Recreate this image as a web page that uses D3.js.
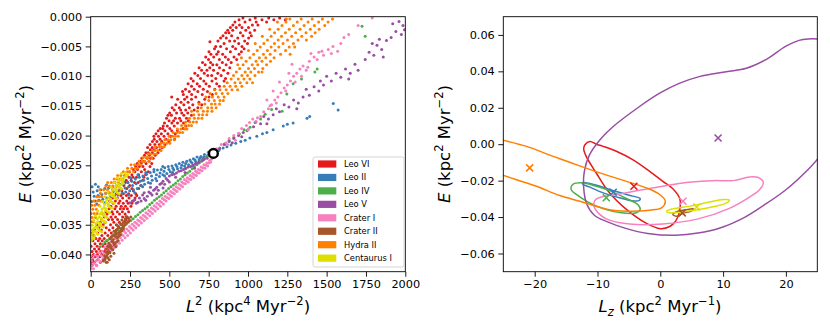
<!DOCTYPE html>
<html>
  <head>
    <meta charset="utf-8">
    <script type="text/javascript" src="https://d3js.org/d3.v7.min.js"></script>
    <style>
      body { margin: 0; background: #fff; }
      text { font-family: "DejaVu Sans", sans-serif; }
    </style>
  </head>
  <body>
    <script>
        // satellite names and colours (legend order = plotting order)
        var names = ["Leo VI", "Leo II", "Leo IV", "Leo V", "Crater I", "Crater II", "Hydra II", "Centaurus I"];
        var colors = ["#e41a1c", "#377eb8", "#4daf4a", "#984ea3", "#f781bf", "#a65628", "#ff7f00", "#dede00"];

        // tick values
        var l2Ticks = [0, 250, 500, 750, 1000, 1250, 1500, 1750, 2000];
        var eTicksLeft = [0, -0.005, -0.010, -0.015, -0.020, -0.025, -0.030, -0.035, -0.040];
        var lzTicks = [-20, -10, 0, 10, 20];
        var eTicksRight = [0.06, 0.04, 0.02, 0.00, -0.02, -0.04, -0.06];

        // left panel: [L^2, E] samples
        var leoVI = [[8,-.0418],[37,-.0418],[22,-.0413],[61,-.0413],[4,-.0413],[45,-.0409],[13,-.0409],[79,-.0409],[29,-.0404],[92,-.0404],[58,-.0404],[6,-.0404],[71,-.0400],[18,-.0400],[104,-.0400],[43,-.0400],[36,-.0395],[87,-.0395],[9,-.0395],[122,-.0395],[63,-.0395],[52,-.0391],[112,-.0391],[24,-.0391],[95,-.0391],[78,-.0386],[3,-.0386],[134,-.0386],[41,-.0386],[108,-.0386],[61,-.0382],[119,-.0382],[27,-.0382],[92,-.0382],[148,-.0382],[14,-.0377],[103,-.0377],[73,-.0377],[139,-.0377],[48,-.0377],[86,-.0373],[33,-.0373],[158,-.0373],[121,-.0373],[57,-.0373],[109,-.0368],[19,-.0368],[71,-.0368],[173,-.0368],[144,-.0368],[45,-.0364],[131,-.0364],[92,-.0364],[185,-.0364],[11,-.0364],[68,-.0359],[162,-.0359],[118,-.0359],[26,-.0359],[193,-.0359],[99,-.0355],[141,-.0355],[52,-.0355],[178,-.0355],[207,-.0355],[126,-.0350],[79,-.0350],[163,-.0350],[38,-.0350],[196,-.0350],[147,-.0346],[92,-.0346],[211,-.0346],[61,-.0346],[182,-.0346],[113,-.0341],[171,-.0341],[69,-.0341],[224,-.0341],[138,-.0341],[158,-.0337],[87,-.0337],[203,-.0337],[129,-.0337],[232,-.0337],[104,-.0332],[183,-.0332],[142,-.0332],[219,-.0332],[78,-.0332],[136,-.0328],[201,-.0328],[97,-.0328],[169,-.0328],[241,-.0328],[117,-.0323],[188,-.0323],[154,-.0323],[233,-.0323],[209,-.0323],[162,-.0319],[128,-.0319],[221,-.0319],[194,-.0319],[256,-.0319],[143,-.0314],[207,-.0314],[178,-.0314],[262,-.0314],[238,-.0314],[186,-.0310],[121,-.0310],[229,-.0310],[157,-.0310],[271,-.0310],[169,-.0305],[244,-.0305],[203,-.0305],[139,-.0305],[282,-.0305],[192,-.0301],[258,-.0301],[227,-.0301],[151,-.0301],[293,-.0301],
            [163,-.0298],[241,-.0298],[287,-.0298],[208,-.0298],[198,-.0293],[271,-.0293],[176,-.0293],[229,-.0289],[305,-.0289],[187,-.0289],[262,-.0289],[211,-.0284],[318,-.0284],[248,-.0284],[236,-.0279],[279,-.0279],[301,-.0279],[219,-.0279],[257,-.0275],[330,-.0275],[226,-.0275],[244,-.0270],[291,-.0270],[338,-.0270],[269,-.0270],[262,-.0266],[349,-.0266],[305,-.0266],[281,-.0261],[247,-.0261],[322,-.0261],[366,-.0261],[298,-.0257],[271,-.0257],[343,-.0257],[309,-.0252],[377,-.0252],[286,-.0252],[332,-.0252],[296,-.0247],[352,-.0247],[388,-.0247],[321,-.0247],[338,-.0243],[314,-.0243],[371,-.0243],[359,-.0238],[397,-.0238],[325,-.0238],[381,-.0238],[342,-.0233],[410,-.0233],[373,-.0233],[366,-.0229],[392,-.0229],[428,-.0229],[351,-.0229],[379,-.0224],[441,-.0224],[403,-.0224],[362,-.0220],[418,-.0220],[455,-.0220],[391,-.0220],[408,-.0215],[377,-.0215],[472,-.0215],[436,-.0215],[421,-.0210],[392,-.0210],[497,-.0210],[452,-.0210],[404,-.0206],[478,-.0206],[533,-.0206],[441,-.0206],[431,-.0201],[508,-.0201],[466,-.0201],[402,-.0201],[449,-.0197],[415,-.0197],[538,-.0197],[491,-.0197],[472,-.0192],[551,-.0192],[429,-.0192],[515,-.0192],[458,-.0188],[503,-.0188],[588,-.0188],[442,-.0188],[487,-.0184],[531,-.0184],[605,-.0184],[461,-.0184],[469,-.0179],[552,-.0179],[516,-.0179],[590,-.0179],[498,-.0175],[573,-.0175],[527,-.0175],[621,-.0175],[482,-.0171],[538,-.0171],[609,-.0171],[565,-.0171],[513,-.0166],[592,-.0166],[641,-.0166],[491,-.0166],[546,-.0162],[502,-.0162],[617,-.0162],[579,-.0162],[531,-.0157],[658,-.0157],[572,-.0157],[604,-.0157],[563,-.0153],[627,-.0153],[518,-.0153],[681,-.0153],[592,-.0148],[541,-.0148],[649,-.0148],[706,-.0148],[574,-.0144],[619,-.0144],[688,-.0144],[553,-.0139],[641,-.0139],[597,-.0139],[725,-.0139],[515,-.0135],[668,-.0135],[612,-.0135],[752,-.0135],[589,-.0131],[709,-.0131],[642,-.0131],[773,-.0131],[627,-.0126],[584,-.0126],[681,-.0126],[742,-.0126],[603,-.0122],[716,-.0122],[658,-.0122],[789,-.0122],[641,-.0117],[754,-.0117],[692,-.0117],[818,-.0117],[619,-.0113],[677,-.0113],[733,-.0113],[801,-.0113],[652,-.0108],[719,-.0108],[848,-.0108],[771,-.0108],[638,-.0104],[698,-.0104],[795,-.0104],[857,-.0104],[681,-.0099],[744,-.0099],[829,-.0099],[769,-.0099],[662,-.0095],[722,-.0095],[808,-.0095],[872,-.0095],[705,-.0090],[781,-.0090],[845,-.0090],[739,-.0090],[689,-.0086],[757,-.0086],[884,-.0086],[819,-.0086],[728,-.0081],[802,-.0081],[861,-.0081],[776,-.0081],[711,-.0077],[837,-.0077],[893,-.0077],[762,-.0077],[749,-.0072],[818,-.0072],[875,-.0072],[928,-.0072],[782,-.0068],[731,-.0068],[856,-.0068],[911,-.0068],[764,-.0063],[839,-.0063],[943,-.0063],[801,-.0063],[811,-.0059],[888,-.0059],[958,-.0059],[752,-.0059],[787,-.0054],[864,-.0054],[921,-.0054],[975,-.0054],[826,-.0050],[903,-.0050],[962,-.0050],[795,-.0050],[848,-.0045],[758,-.0042],[941,-.0045],[997,-.0045],[809,-.0041],[883,-.0041],[979,-.0041],[915,-.0041],[862,-.0036],[935,-.0036],[1004,-.0036],[826,-.0036],[841,-.0032],[896,-.0032],[968,-.0032],[1021,-.0032],[879,-.0027],[952,-.0027],[1013,-.0027],[858,-.0027],[903,-.0023],[986,-.0023],[871,-.0023],[1042,-.0023],[925,-.0018],[1003,-.0018],[962,-.0018],[888,-.0018],[946,-.0014],[1028,-.0014],[904,-.0014],[1063,-.0014],[917,-.0009],[981,-.0009],[1052,-.0009],[1118,-.0009],[943,-.0005],[1012,-.0005],[1089,-.0005],[1164,-.0005],[1237,-.0005],[968,-.0002],[1046,-.0002],[1132,-.0002],[1201,-.0002]];
        var leoII = [[1542,-.0146],[1573,-.0157],[1375,-.0171],[1392,-.0168],[1287,-.0179],[1250,-.0181],[1224,-.0184],[1160,-.0190],[1120,-.0195],[1092,-.0197],[1056,-.0201],[1012,-.0204],[982,-.0208],[954,-.0210],[922,-.0213],[892,-.0216],[866,-.0219],[842,-.0221],[815,-.0225],[795,-.0227],
            [771,-.0229],[756,-.0234],[748,-.0228],[737,-.0236],[723,-.0232],[712,-.0239],[701,-.0235],[689,-.0241],[676,-.0236],[668,-.0244],[653,-.0239],[644,-.0246],[631,-.0241],[622,-.0249],[611,-.0243],[597,-.0251],[586,-.0245],[574,-.0254],[563,-.0247],[552,-.0256],[541,-.0249],[528,-.0258],[517,-.0251],[506,-.0261],[493,-.0252],[484,-.0264],[471,-.0254],[459,-.0266],[448,-.0257],[437,-.0269],[424,-.0258],[413,-.0272],[402,-.0261],[391,-.0275],[378,-.0262],[366,-.0279],[355,-.0265],[343,-.0282],[332,-.0268],[321,-.0284],[309,-.0270],[296,-.0289],[284,-.0273],[272,-.0291],[261,-.0277],[248,-.0293],[236,-.0279],[223,-.0295],[212,-.0281],[199,-.0297],[186,-.0282],[174,-.0300],[163,-.0285],[151,-.0301],[139,-.0286],[126,-.0303],[113,-.0288],[102,-.0305],[89,-.0289],[77,-.0307],[64,-.0291],[52,-.0309],[41,-.0293],[28,-.0310],[16,-.0295],[6,-.0311],[9,-.0286],
            [764,-.0232],[744,-.0233],[719,-.0236],[694,-.0238],[663,-.0241],[637,-.0244],[604,-.0247],[579,-.0250],[548,-.0252],[523,-.0255],[497,-.0257],[466,-.0260],[441,-.0263],[418,-.0266],[387,-.0268],[362,-.0272],[337,-.0275],[314,-.0277],[289,-.0281],[266,-.0284],[241,-.0286],[218,-.0288],[193,-.0290],[168,-.0293],[144,-.0294],[119,-.0296],[96,-.0297],[71,-.0299],[47,-.0301],[22,-.0302],
            [458,-.0252],[402,-.0257],[350,-.0262],[300,-.0266],[255,-.0271],[205,-.0275],[150,-.0279],[100,-.0283],[48,-.0286],[30,-.0282],[520,-.0262],[470,-.0268],[420,-.0276],[380,-.0280],[330,-.0286],[280,-.0296],[240,-.0300],[90,-.0313],[38,-.0315],[600,-.0256],[650,-.0251]];
        var leoIV = [[60,-.0387],[75,-.0383],[90,-.0379],[105,-.0376],[120,-.0373],[135,-.0369],[150,-.0366],[165,-.0363],[180,-.0360],[195,-.0356],[210,-.0353],[225,-.0349],[240,-.0346],[255,-.0343],[270,-.0340],[285,-.0336],[300,-.0333],[315,-.0329],[330,-.0326],[345,-.0323],[360,-.0320],[375,-.0316],[390,-.0313],[405,-.0309],[420,-.0306],[435,-.0303],[450,-.0300],[465,-.0296],[480,-.0293],[495,-.0289],[510,-.0286],[525,-.0283],[540,-.0280],[555,-.0276],[570,-.0273],[585,-.0269],[600,-.0266],[615,-.0263],[630,-.0260],[645,-.0256],[660,-.0253],[675,-.0249],[690,-.0246],[705,-.0243],[720,-.0240],[735,-.0237],[750,-.0234],[775,-.0230],[820,-.0221],[850,-.0214],[880,-.0208],[910,-.0203],[945,-.0197],[975,-.0190],[993,-.0192],[1013,-.0186],[1045,-.0178],[1080,-.0172],[1109,-.0164],[1150,-.0156],[1217,-.0159],[1247,-.0130],[1287,-.0113],[1340,-.0105],[1425,-.0093],[1440,-.0088],[1725,-.0016],[1745,-.0033]];
        var leoV = [[1985,-.0015],[1960,-.0008],[1940,-.0025],[1910,-.0035],[1975,-.0030],[1920,-.0012],[1995,-.0022],[1880,-.0040],[1850,-.0055],[1820,-.0048],[1800,-.0065],[1770,-.0060],[1745,-.0072],[1860,-.0068],[1790,-.0045],[1835,-.0038],[1680,-.0080],[1650,-.0095],[1620,-.0088],[1590,-.0102],[1560,-.0095],[1530,-.0108],[1500,-.0100],[1640,-.0105],[1700,-.0090],[1480,-.0115],[1450,-.0125],[1420,-.0118],[1390,-.0132],[1370,-.0122],[1460,-.0108],[1350,-.0135],[1320,-.0145],[1290,-.0140],[1260,-.0152],[1230,-.0148],[1200,-.0160],[1180,-.0155],[1310,-.0155],[1160,-.0165],[1130,-.0172],[1100,-.0168],[1080,-.0180],[1050,-.0177],[1035,-.0185],[1120,-.0180],[1000,-.0190],[970,-.0195],[940,-.0200],[910,-.0205],[880,-.0210],[850,-.0215],[820,-.0222],[790,-.0228],[960,-.0202],[900,-.0212],[740,-.0238],[710,-.0242],[680,-.0246],[650,-.0250],[620,-.0253],[590,-.0257],[560,-.0260],[530,-.0265],[500,-.0268],[480,-.0272],[460,-.0277],[440,-.0282],[420,-.0287],[400,-.0292],[380,-.0297],[360,-.0302],[340,-.0306],[320,-.0310],[300,-.0312],[460,-.0288],[420,-.0298],[500,-.0278],[540,-.0270],[250,-.0313],[280,-.0308],[600,-.0262],[660,-.0255],[380,-.0287],[340,-.0296],
            [720,-.0240],[690,-.0244],[665,-.0248],[635,-.0252],[605,-.0255],[575,-.0259],[545,-.0263],[515,-.0266],[490,-.0275],[470,-.0282],[450,-.0280],[430,-.0292],[410,-.0290],[390,-.0300],[370,-.0295],[350,-.0309],[330,-.0300],[310,-.0305],[290,-.0314],[265,-.0310]];
        var craterI = [[4,-.0411],[9,-.0419],[15,-.0406],[21,-.0415],[27,-.0401],[33,-.0411],[38,-.0418],[44,-.0403],[50,-.0409],[56,-.0397],[61,-.0412],[67,-.0402],[73,-.0394],[79,-.0406],[85,-.0398],[90,-.0388],[96,-.0401],[102,-.0392],[108,-.0385],[113,-.0397],[119,-.0389],[125,-.0380],[131,-.0393],[137,-.0384],[142,-.0377],[148,-.0389],[154,-.0380],[160,-.0373],[165,-.0385],[171,-.0376],[177,-.0369],[183,-.0381],[189,-.0372],[194,-.0365],[200,-.0376],[206,-.0368],[212,-.0361],[218,-.0372],[223,-.0364],[229,-.0357],[235,-.0368],[241,-.0360],[247,-.0353],[252,-.0364],[258,-.0356],[264,-.0349],[270,-.0359],[276,-.0352],[281,-.0346],[287,-.0355],[293,-.0348],[299,-.0342],[305,-.0351],[311,-.0344],[317,-.0338],[322,-.0347],[328,-.0340],[334,-.0334],[340,-.0343],[346,-.0336],[351,-.0330],[357,-.0339],[363,-.0332],[369,-.0326],[375,-.0335],[380,-.0328],[386,-.0322],[392,-.0331],[398,-.0324],[404,-.0318],[410,-.0327],[415,-.0320],[421,-.0314],[427,-.0323],[433,-.0316],[439,-.0310],[444,-.0319],[450,-.0312],[456,-.0306],[462,-.0315],[468,-.0308],[473,-.0302],[479,-.0310],[485,-.0304],[491,-.0298],[497,-.0306],[503,-.0300],[508,-.0294],[514,-.0302],[520,-.0296],[526,-.0290],[532,-.0298],[537,-.0292],[543,-.0286],[549,-.0294],[555,-.0288],[561,-.0282],[567,-.0290],[573,-.0284],[579,-.0278],[584,-.0286],[590,-.0280],[596,-.0274],[602,-.0281],[608,-.0276],[614,-.0271],[620,-.0278],[626,-.0273],[632,-.0267],[637,-.0274],[643,-.0269],[649,-.0264],[655,-.0271],[661,-.0266],[667,-.0260],[672,-.0267],[678,-.0262],[684,-.0257],[690,-.0263],[696,-.0258],[702,-.0253],[708,-.0259],[714,-.0254],[720,-.0249],[726,-.0255],[732,-.0250],[738,-.0246],[744,-.0251],[750,-.0246],[756,-.0242],[762,-.0245],[768,-.0240],[3,-.0423],[18,-.0424],[0,-.0402],
            [800,-.0222],[830,-.0215],[860,-.0212],[880,-.0205],[910,-.0200],[940,-.0196],[960,-.0188],[990,-.0183],[1010,-.0178],[1030,-.0172],[1050,-.0176],[1080,-.0168],[1100,-.0160],[1130,-.0155],[1150,-.0148],[1170,-.0140],[1190,-.0135],[1210,-.0128],[1230,-.0120],[1250,-.0115],[1270,-.0108],[1290,-.0100],[1310,-.0095],[1330,-.0088],[1350,-.0083],[1370,-.0090],[1390,-.0075],[1420,-.0068],[1450,-.0060],[1480,-.0065],[1510,-.0055],[1540,-.0050],[1570,-.0058],[1610,-.0035],[1640,-.0030],[1700,-.0015],[1790,-.0002],[1200,-.0110],[1260,-.0095],[1160,-.0125],[1120,-.0140],[1400,-.0062],[1280,-.0080],
            [1000,-.0190],[1060,-.0170],[1140,-.0150],[1180,-.0145],[1240,-.0125],[1300,-.0110],[1340,-.0100],[1380,-.0085],[1440,-.0072],[1470,-.0058],[1530,-.0062],[1590,-.0045],[920,-.0208],[870,-.0215]];
        var craterII = [[80,-.0411],[98,-.0413],[118,-.0409],[88,-.0402],[108,-.0399],[128,-.0403],[148,-.0398],[100,-.0391],[120,-.0388],[140,-.0392],[160,-.0387],[115,-.0381],[135,-.0378],[155,-.0382],[175,-.0377],[130,-.0371],[150,-.0368],[170,-.0372],[190,-.0367],[148,-.0361],[168,-.0358],[188,-.0362],[208,-.0357],[168,-.0351],[188,-.0348],[208,-.0352],[228,-.0347],[198,-.0342],[220,-.0340],[245,-.0343],[225,-.0336],[255,-.0337],[92,-.0407],[112,-.0395],[125,-.0385],[142,-.0375],[160,-.0365],[178,-.0355],[198,-.0349],[215,-.0344],
            [90,-.0409],[110,-.0406],[102,-.0403],[122,-.0397],[132,-.0390],[110,-.0386],[150,-.0384],[125,-.0374],[145,-.0380],[165,-.0379],[140,-.0369],[160,-.0370],[180,-.0369],[158,-.0362],[178,-.0364],[198,-.0360],[178,-.0353],[198,-.0356],[218,-.0350],[210,-.0346],[235,-.0345],[240,-.0339],[105,-.0413],[96,-.0396]];
        var hydraII = [[4,-.0345],[17,-.0345],[9,-.0338],[31,-.0338],[22,-.0331],[3,-.0331],[41,-.0331],[14,-.0324],[36,-.0324],[27,-.0317],[52,-.0317],[8,-.0317],[43,-.0310],[19,-.0310],[63,-.0310],[38,-.0303],[71,-.0303],[55,-.0303],[62,-.0297],[94,-.0297],[121,-.0297],[83,-.0291],[138,-.0291],[107,-.0291],[58,-.0291],[119,-.0285],[96,-.0285],[162,-.0285],[141,-.0285],[131,-.0279],[176,-.0279],[108,-.0279],[154,-.0279],[167,-.0273],[149,-.0273],[203,-.0273],[188,-.0273],[192,-.0267],[229,-.0267],[171,-.0267],[214,-.0267],[208,-.0261],[247,-.0261],[273,-.0261],[231,-.0261],[261,-.0255],[234,-.0255],[298,-.0255],[282,-.0255],[279,-.0249],[318,-.0249],[256,-.0249],[302,-.0249],[307,-.0243],[344,-.0243],[329,-.0243],[371,-.0243],[333,-.0237],[362,-.0237],[389,-.0237],[351,-.0237],[364,-.0231],[401,-.0231],[381,-.0231],[418,-.0231],[392,-.0225],[426,-.0225],[409,-.0225],[447,-.0225],[411,-.0219],[452,-.0219],[437,-.0219],[468,-.0219],[446,-.0213],[483,-.0213],[464,-.0213],[503,-.0213],[471,-.0207],[509,-.0207],[492,-.0207],[531,-.0207],[498,-.0201],[539,-.0201],[522,-.0201],[557,-.0201],[524,-.0195],[566,-.0195],[548,-.0195],[584,-.0195],[551,-.0189],[597,-.0189],[574,-.0189],[612,-.0189],[578,-.0183],[623,-.0183],[601,-.0183],[641,-.0183],[604,-.0177],[652,-.0177],[631,-.0177],[673,-.0177],[628,-.0171],[684,-.0171],[659,-.0171],[707,-.0171],[655,-.0165],[711,-.0165],[688,-.0165],[738,-.0165],[679,-.0159],[742,-.0159],[716,-.0159],[771,-.0159],[641,-.0159],[703,-.0153],[769,-.0153],[744,-.0153],[797,-.0153],[726,-.0147],[791,-.0147],[768,-.0147],[819,-.0147],[688,-.0147],[751,-.0141],[822,-.0141],[786,-.0141],[843,-.0141],[774,-.0135],[848,-.0135],[811,-.0135],[732,-.0135],[797,-.0129],[872,-.0129],[836,-.0129],[759,-.0129],[822,-.0123],[898,-.0123],[861,-.0123],[787,-.0123],[934,-.0123],[849,-.0117],[922,-.0117],[886,-.0117],[961,-.0117],[868,-.0111],[951,-.0111],[917,-.0111],[993,-.0111],[1029,-.0111],[893,-.0105],[974,-.0105],[938,-.0105],[1012,-.0105],[908,-.0099],[997,-.0099],[961,-.0099],[1044,-.0099],[926,-.0093],[1018,-.0093],[982,-.0093],[1067,-.0093],[1089,-.0093],[947,-.0087],[1041,-.0087],[1003,-.0087],[1094,-.0087],[969,-.0081],[1062,-.0081],[1027,-.0081],[1118,-.0081],[935,-.0081],[988,-.0075],[1089,-.0075],[1051,-.0075],[1143,-.0075],[1012,-.0069],[1113,-.0069],[1072,-.0069],[1166,-.0069],[958,-.0069],[1036,-.0063],[1141,-.0063],[1098,-.0063],[1207,-.0063],[1268,-.0063],[1059,-.0057],[1172,-.0057],[1123,-.0057],[1239,-.0057],[1003,-.0057],[1078,-.0051],[1196,-.0051],[1147,-.0051],[1262,-.0051],[1297,-.0051],[1101,-.0045],[1223,-.0045],[1168,-.0045],[1289,-.0045],[1046,-.0045],[1124,-.0039],[1251,-.0039],[1192,-.0039],[1318,-.0039],[1371,-.0039],[1147,-.0033],[1278,-.0033],[1213,-.0033],[1342,-.0033],[1404,-.0033],[1091,-.0033],[1169,-.0027],[1303,-.0027],[1238,-.0027],[1369,-.0027],[1427,-.0027],[1192,-.0021],[1331,-.0021],[1262,-.0021],[1396,-.0021],[1452,-.0021],[1138,-.0021],[1216,-.0015],[1357,-.0015],[1289,-.0015],[1422,-.0015],[1488,-.0015],[1241,-.0009],[1382,-.0009],[1313,-.0009],[1449,-.0009],[1509,-.0009],[1187,-.0009],[1266,-.0004],[1408,-.0004],[1338,-.0004],[1473,-.0004],[1537,-.0004],[1244,-.0004]];
        var centaurusI = [[5,-.0376],[20,-.0373],[5,-.0367],[25,-.0369],[45,-.0366],[8,-.0359],[28,-.0361],[50,-.0358],[70,-.0362],[10,-.0351],[32,-.0353],[55,-.0350],[80,-.0354],[20,-.0343],[45,-.0345],[70,-.0342],[95,-.0346],[30,-.0335],[55,-.0337],[80,-.0334],[105,-.0338],[45,-.0327],[70,-.0329],[95,-.0326],[120,-.0330],[60,-.0319],[85,-.0321],[110,-.0318],[135,-.0322],[75,-.0311],[100,-.0313],[125,-.0310],[150,-.0314],[90,-.0303],[115,-.0305],[140,-.0302],[165,-.0306],[110,-.0295],[135,-.0297],[160,-.0294],[180,-.0298],[130,-.0287],[155,-.0289],[180,-.0286],[195,-.0290],[150,-.0279],[175,-.0281],[200,-.0278],[170,-.0271],[195,-.0273],[215,-.0270],[195,-.0264],[220,-.0262],[235,-.0266],
            [12,-.0372],[15,-.0364],[38,-.0364],[60,-.0360],[20,-.0356],[43,-.0355],[67,-.0352],[33,-.0348],[58,-.0347],[83,-.0344],[42,-.0340],[68,-.0339],[93,-.0336],[57,-.0332],[82,-.0331],[108,-.0328],[72,-.0324],[97,-.0323],[122,-.0320],[88,-.0316],[113,-.0315],[138,-.0312],[102,-.0308],[127,-.0307],[153,-.0304],[122,-.0300],[147,-.0299],[170,-.0296],[140,-.0292],[167,-.0291],[188,-.0288],[162,-.0284],[187,-.0283],[207,-.0280],[182,-.0276],[205,-.0275],[225,-.0268]];
        var scatter = [leoVI, leoII, leoIV, leoV, craterI, craterII, hydraII, centaurusI];

        // the open circle on the left panel
        var refPoint = [780, -0.023];

        // right panel: contours in [Lz, E]
        var leoVIContour = [[-12.0,-.0003],[-11.2,.0015],[-10.2,.0000],[-9.1,-.0012],[-7.0,-.0039],[-4.4,-.0085],[-1.7,-.0149],[0.4,-.0204],[2.0,-.0245],[3.1,-.0300],[3.1,-.0360],[2.5,-.0420],[1.5,-.0452],[0.0,-.0464],[-2.2,-.0435],[-5.4,-.0358],[-8.1,-.0267],[-10.2,-.0158],[-11.8,-.0067],[-12.2,-.0025]];
        var leoIIContour = [[-12.2,-.0210],[-9.6,-.0231],[-7.0,-.0260],[-4.4,-.0285],[-3.2,-.0298],[-3.4,-.0310],[-4.6,-.0310],[-6.5,-.0294],[-9.1,-.0267],[-11.2,-.0236],[-12.4,-.0218]];
        var leoIVContour = [[-13.9,-.0220],[-12.5,-.0212],[-10.3,-.0230],[-8.1,-.0255],[-5.4,-.0298],[-3.6,-.0331],[-3.2,-.0358],[-3.8,-.0376],[-6.2,-.0377],[-9.0,-.0355],[-11.5,-.0318],[-13.2,-.0280],[-14.2,-.0248]];
        var leoVContour = [[25.2,.0578],[23.5,.0578],[22.1,.0570],[20.0,.0538],[16.9,.0466],[13.7,.0417],[10.5,.0398],[6.2,.0371],[3.1,.0335],[-0.1,.0280],[-3.3,.0207],[-7.5,.0097],[-9.6,.0025],[-11.3,-.0060],[-12.1,-.0150],[-12.2,-.0240],[-11.7,-.0330],[-10.5,-.0390],[-8.5,-.0425],[-5.5,-.0462],[-2.0,-.0490],[2.5,-.0500],[6.0,-.0488],[9.5,-.0460],[13.5,-.0400],[16.5,-.0335],[20.0,-.0250],[23.5,-.0140],[25.2,-.0075]];
        var craterIContour = [[-10.3,-.0304],[-9.1,-.0287],[-7.0,-.0276],[-2.8,-.0250],[0.4,-.0231],[4.1,-.0210],[8.4,-.0200],[11.6,-.0200],[14.2,-.0180],[15.6,-.0183],[16.4,-.0210],[15.8,-.0250],[14.2,-.0290],[11.0,-.0352],[6.0,-.0410],[0.4,-.0438],[-4.9,-.0438],[-8.6,-.0410],[-10.3,-.0360],[-10.6,-.0330]];
        var craterIIContour = [[2.0,-.0386],[2.5,-.0372],[4.1,-.0360],[5.3,-.0355],[4.9,-.0367],[3.6,-.0380],[2.6,-.0396]];
        var hydraIIContour = [[-25.5,.0025],[-21.3,-.0012],[-17.6,-.0060],[-16.0,-.0080],[-13.4,-.0112],[-10.7,-.0145],[-5.4,-.0204],[-2.2,-.0240],[-0.1,-.0276],[0.8,-.0313],[0.2,-.0349],[-1.7,-.0362],[-5.4,-.0368],[-8.1,-.0360],[-12.8,-.0313],[-16.0,-.0282],[-19.7,-.0231],[-22.9,-.0195],[-25.5,-.0165]];
        var centaurusIContour = [[1.0,-.0368],[2.0,-.0355],[4.7,-.0340],[7.3,-.0322],[10.0,-.0304],[11.0,-.0308],[10.5,-.0324],[8.4,-.0343],[5.7,-.0361],[3.1,-.0373],[1.2,-.0376]];
        var contours = [leoVIContour, leoIIContour, leoIVContour, leoVContour, craterIContour, craterIIContour, hydraIIContour, centaurusIContour];
        // contours that run out of the frame are drawn open
        var openContour = [false, false, false, true, false, false, true, false];

        // median positions (x markers)
        var medianLz = [-4.2, -7.5, -8.6, 9.2, 3.6, 3.5, -20.8, 5.8];
        var medianE = [-0.0231, -0.0264, -0.0294, 0.0034, -0.0313, -0.0377, -0.0130, -0.0345];

        // ---- layout ----
        var width = 830, height = 332;
        var leftBox = {x0: 90.7, x1: 405.3, y0: 16.7, y1: 271.7};
        var rightBox = {x0: 503.3, x1: 817.3, y0: 16.7, y1: 271.7};

        var svg = d3.select("body").append("svg")
                    .attr("width", width)
                    .attr("height", height);

        var x1 = d3.scaleLinear().domain([0, 2000]).range([leftBox.x0, leftBox.x1]);
        var y1 = d3.scaleLinear().domain([-0.0429, 0]).range([leftBox.y1, leftBox.y0]);
        var x2 = d3.scaleLinear().domain([-25, 25]).range([rightBox.x0, rightBox.x1]);
        var y2 = d3.scaleLinear().domain([-0.07, 0.07]).range([rightBox.y1, rightBox.y0]);

        var defs = svg.append("defs");
        [["clipL", leftBox], ["clipR", rightBox]].forEach(function(c) {
            defs.append("clipPath").attr("id", c[0]).append("rect")
                .attr("x", c[1].x0).attr("y", c[1].y0)
                .attr("width", c[1].x1 - c[1].x0).attr("height", c[1].y1 - c[1].y0);
        });

        // ---- left panel scatter ----
        var pts = svg.append("g").attr("clip-path", "url(#clipL)");
        scatter.forEach(function(series, i) {
            pts.append("g").selectAll("circle")
                .data(series)
                .enter().append("circle")
                  .attr("cx", function(d) { return x1(d[0]); })
                  .attr("cy", function(d) { return y1(d[1]); })
                  .attr("r", 1.5)
                  .style("fill", colors[i]);
        });

        svg.append("circle")
            .attr("cx", x1(refPoint[0]))
            .attr("cy", y1(refPoint[1]))
            .attr("r", 4.4)
            .style("fill", "#fff")
            .style("stroke", "#000")
            .style("stroke-width", 2.4);

        // ---- right panel contours ----
        var cg = svg.append("g").attr("clip-path", "url(#clipR)");
        contours.forEach(function(c, i) {
            var line = d3.line()
                .x(function(d) { return x2(d[0]); })
                .y(function(d) { return y2(d[1]); })
                .curve(openContour[i] ? d3.curveCatmullRom.alpha(0.5) : d3.curveCatmullRomClosed.alpha(0.5));
            cg.append("path")
                .attr("d", line(c))
                .style("fill", "none")
                .style("stroke", colors[i])
                .style("stroke-width", 1.5);
        });
        medianLz.forEach(function(lz, i) {
            cg.append("path")
                .attr("transform", "translate(" + x2(lz) + "," + y2(medianE[i]) + ")")
                .attr("d", "M-3.5,-3.5L3.5,3.5M-3.5,3.5L3.5,-3.5")
                .style("stroke", colors[i])
                .style("stroke-width", 1.6);
        });

        // ---- axes ----
        function styleAxis(g) {
            g.select(".domain").remove();
            g.selectAll("text").attr("font-family", "DejaVu Sans").attr("font-size", 11.3).attr("fill", "#000");
            g.selectAll("line").attr("stroke", "#000").attr("stroke-width", 0.9);
        }
        function drawAxes(box, xs, ys, xt, yt, yfmt) {
            svg.append("g")
                .attr("transform", "translate(0," + box.y1 + ")")
                .call(d3.axisBottom(xs).tickValues(xt).tickSize(5).tickPadding(3.5).tickFormat(d3.format("d")))
                .call(styleAxis);
            svg.append("g")
                .attr("transform", "translate(" + box.x0 + ",0)")
                .call(d3.axisLeft(ys).tickValues(yt).tickSize(5).tickPadding(3.5).tickFormat(d3.format(yfmt)))
                .call(styleAxis);
            svg.append("rect")
                .attr("x", box.x0).attr("y", box.y0)
                .attr("width", box.x1 - box.x0).attr("height", box.y1 - box.y0)
                .style("fill", "none").style("stroke", "#000").style("stroke-width", 0.9);
        }
        drawAxes(leftBox, x1, y1, l2Ticks, eTicksLeft, ".3f");
        drawAxes(rightBox, x2, y2, lzTicks, eTicksRight, ".2f");

        // labels with super/subscripts
        function richText(x, y, rotate, parts, size) {
            var t = svg.append("text")
                .attr("transform", "translate(" + x + "," + y + ")" + (rotate ? " rotate(-90)" : ""))
                .attr("text-anchor", "middle")
                .attr("font-size", size)
                .attr("fill", "#000");
            var shift = 0;
            parts.forEach(function(p) {
                var ts = t.append("tspan").text(p[0]);
                var target = p[1] === "sup" ? -0.42 * size : (p[1] === "sub" ? 0.22 * size : 0);
                ts.attr("dy", target - shift);
                shift = target;
                if (p[1]) ts.attr("font-size", size * 0.7);
                if (p[2]) ts.attr("font-style", "italic");
            });
        }
        var fs = 16.5;
        richText(248, 312, false, [["L", "", 1], ["2", "sup"], [" (kpc", ""], ["4", "sup"], [" Myr", ""], ["\u22122", "sup"], [")", ""]], fs);
        richText(31, 144, true, [["E", "", 1], [" (kpc", ""], ["2", "sup"], [" Myr", ""], ["\u22122", "sup"], [")", ""]], fs);
        richText(660, 312, false, [["L", "", 1], ["z", "sub", 1], [" (kpc", ""], ["2", "sup"], [" Myr", ""], ["\u22121", "sup"], [")", ""]], fs);
        richText(450, 144, true, [["E", "", 1], [" (kpc", ""], ["2", "sup"], [" Myr", ""], ["\u22122", "sup"], [")", ""]], fs);

        // ---- legend ----
        var legend = svg.append("g");
        legend.append("rect")
            .attr("x", 313).attr("y", 157).attr("width", 91).attr("height", 110)
            .attr("rx", 2)
            .style("fill", "#fff").style("fill-opacity", 0.85)
            .style("stroke", "#d0d0d0").style("stroke-width", 0.9);
        var rows = legend.selectAll("g.row")
            .data(names)
            .enter().append("g")
              .attr("class", "row")
              .attr("transform", function(d, i) { return "translate(318," + (164 + i * 13.45) + ")"; });
        rows.append("rect")
            .attr("x", 0).attr("y", -3.6).attr("width", 18.3).attr("height", 7.2)
            .style("fill", function(d, i) { return colors[i]; });
        rows.append("text")
            .attr("x", 26).attr("y", 3)
            .attr("font-size", 8.3)
            .text(function(d) { return d; });
    </script>
  </body>
</html>
